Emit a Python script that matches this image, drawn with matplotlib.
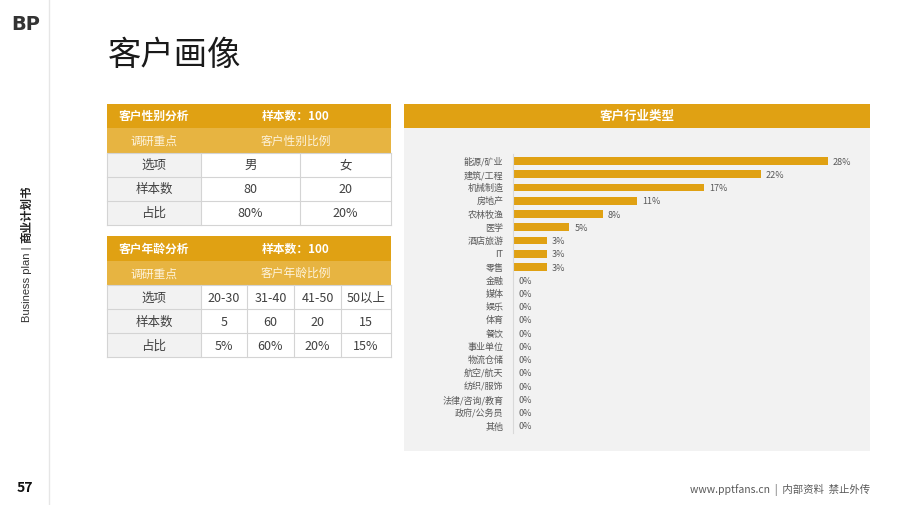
import matplotlib
matplotlib.use('Agg')
import matplotlib.pyplot as plt
from matplotlib.patches import Rectangle

plt.rcParams['font.family'] = ['Noto Sans CJK SC', 'DejaVu Sans']

# ---- data ----
industries = ['能源/矿业', '建筑/工程', '机械制造', '房地产', '农林牧渔', '医学', '酒店旅游', 'IT', '零售',
              '金融', '媒体', '娱乐', '体育', '餐饮', '事业单位', '物流仓储', '航空/航天', '纺织/服饰',
              '法律/咨询/教育', '政府/公务员', '其他']
industry_share = [28, 22, 17, 11, 8, 5, 3, 3, 3, 0, 0, 0, 0, 0, 0, 0, 0, 0, 0, 0, 0]

gender_options = ['男', '女']
gender_counts = [80, 20]
gender_share = ['80%', '20%']

age_options = ['20-30', '31-40', '41-50', '50以上']
age_counts = [5, 60, 20, 15]
age_share = ['5%', '60%', '20%', '15%']

GOLD = '#E0A113'
GOLD2 = '#E7B441'
GRAY_BG = '#F2F2F2'
LINE = '#D4D4D4'
TXT = '#404040'

W, H = 900, 506
fig = plt.figure(figsize=(W / 100, H / 100), dpi=100)
fig.patch.set_facecolor('white')

# overlay axes in pixel coordinates for the page layout
ax0 = fig.add_axes([0, 0, 1, 1])
ax0.set_xlim(0, W)
ax0.set_ylim(H, 0)
ax0.axis('off')

ax0.plot([49, 49], [0, H], color='#E6E6E6', lw=1)
ax0.text(26, 24, 'BP', fontsize=14, fontweight='bold', color='#333333', ha='center', va='center',
         family='DejaVu Sans')
ax0.text(108, 55, '客户画像', fontsize=24, color='#1A1A1A', ha='left', va='center')
ax0.text(27, 322, 'Business plan |', fontsize=8, color='#333333', rotation=90,
         ha='center', va='bottom', family=['Liberation Sans', 'Noto Sans CJK SC'])
ax0.text(27, 243, '商业计划书', fontsize=8.3, color='#222222', rotation=90, fontweight='bold',
         ha='center', va='bottom')
ax0.text(25, 488, '57', fontsize=10, fontweight='bold', color='#111111', ha='center', va='center')
ax0.text(870, 490, 'www.pptfans.cn  |  内部资料  禁止外传', fontsize=7.5, color='#595959',
         ha='right', va='center')


def draw_table(top, cols, title, subtitle, options, counts, shares):
    rows = [top, top + 24.5, top + 49, top + 73, top + 97, top + 121]
    left, right = cols[0], cols[-1]
    ax0.add_patch(Rectangle((left, rows[0]), right - left, rows[1] - rows[0], color=GOLD, lw=0))
    ax0.add_patch(Rectangle((left, rows[1]), right - left, rows[2] - rows[1], color=GOLD2, lw=0))
    ax0.add_patch(Rectangle((left, rows[2]), cols[1] - left, rows[5] - rows[2], color=GRAY_BG, lw=0))
    mid1 = (left + cols[1]) / 2
    mid2 = (cols[1] + right) / 2
    y1 = (rows[0] + rows[1]) / 2
    y2 = (rows[1] + rows[2]) / 2
    ax0.text(mid1, y1, title, color='white', fontsize=8.5, fontweight='bold', ha='center', va='center')
    ax0.text(mid2, y1, '样本数：100', color='white', fontsize=8.5, fontweight='bold', ha='center', va='center')
    ax0.text(mid1, y2, '调研重点', color='#FDF3DC', fontsize=8.5, ha='center', va='center')
    ax0.text(mid2, y2, subtitle, color='#FDF3DC', fontsize=8.5, ha='center', va='center')
    for r in rows[2:]:
        ax0.plot([left, right], [r, r], color=LINE, lw=0.8)
    for c in cols:
        ax0.plot([c, c], [rows[2], rows[5]], color=LINE, lw=0.8)
    row_vals = [('选项', options), ('样本数', [str(v) for v in counts]), ('占比', shares)]
    for k, (name, vals) in enumerate(row_vals):
        yc = (rows[2 + k] + rows[3 + k]) / 2
        ax0.text(mid1, yc, name, color=TXT, fontsize=9, ha='center', va='center')
        for j, v in enumerate(vals):
            ax0.text((cols[j + 1] + cols[j + 2]) / 2, yc, v, color=TXT, fontsize=9, ha='center', va='center')


draw_table(104.5, [107, 201, 300, 391], '客户性别分析', '客户性别比例', gender_options, gender_counts, gender_share)
draw_table(237, [107, 201, 247, 294, 341, 391], '客户年龄分析', '客户年龄比例', age_options, age_counts, age_share)

# chart panel
ax0.add_patch(Rectangle((404, 104.5), 466, 24, color=GOLD, lw=0))
ax0.add_patch(Rectangle((404, 128.5), 466, 323.5, color=GRAY_BG, lw=0))
ax0.text(637, 116.5, '客户行业类型', color='white', fontsize=9, fontweight='bold', ha='center', va='center')

# bar chart
ax = fig.add_axes([513 / W, 1 - 433.6 / H, 337.5 / W, 278.2 / H])
ax.set_facecolor('none')
ypos = list(range(len(industries)))
ax.barh(ypos, industry_share, height=0.58, color=GOLD)
for y, v in zip(ypos, industry_share):
    ax.text(v + 0.45, y, f'{v}%', va='center', ha='left', fontsize=6.5, color='#595959')
ax.set_xlim(0, 30)
ax.set_ylim(len(industries) - 0.5, -0.5)
ax.set_yticks(ypos)
ax.set_yticklabels(industries, fontsize=6.5, color='#595959')
for lab in ax.get_yticklabels():
    lab.set_va('center')
ax.tick_params(axis='y', length=0, pad=7)
ax.set_xticks([])
for s in ['top', 'right', 'bottom']:
    ax.spines[s].set_visible(False)
ax.spines['left'].set_color('#D9D9D9')
ax.spines['left'].set_linewidth(0.8)

fig.savefig('out.png', dpi=100, facecolor='white')
